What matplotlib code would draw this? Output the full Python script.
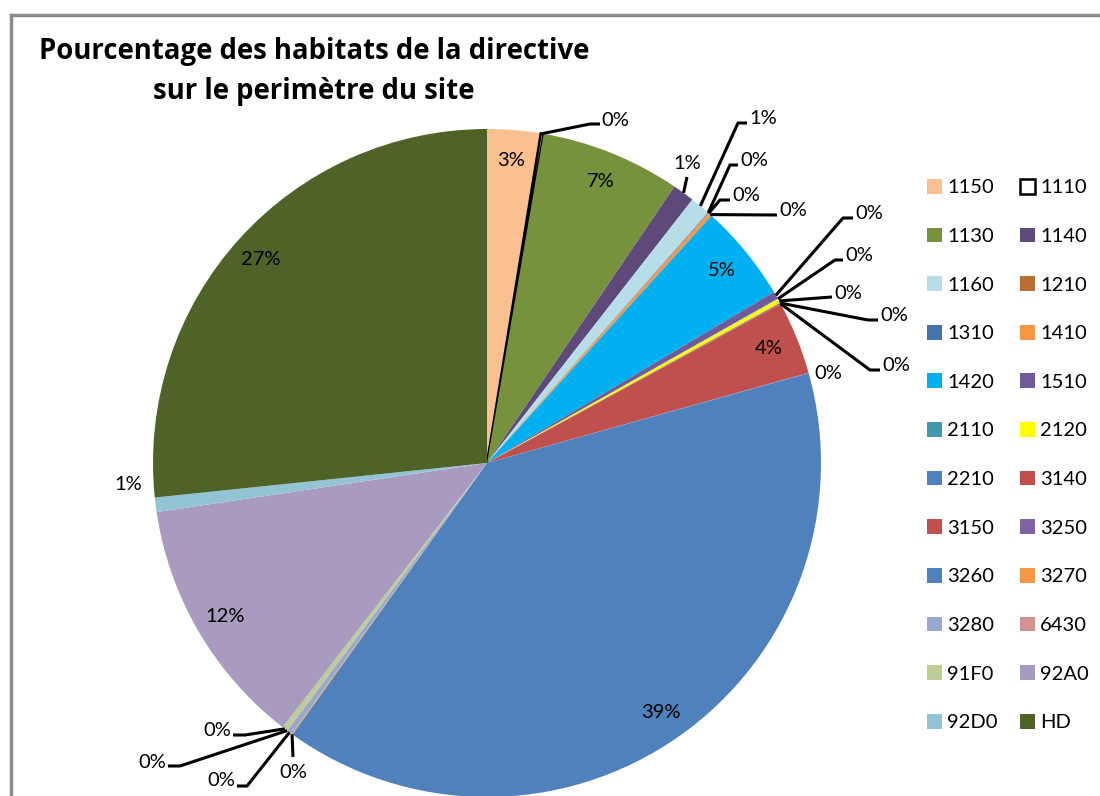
import matplotlib
matplotlib.use('Agg')
import numpy as np
import matplotlib.pyplot as plt
from matplotlib.lines import Line2D

plt.rcParams['font.family'] = ['Lato', 'DejaVu Sans']

# habitat codes, in the order of the pie (clockwise from 12 o'clock)
codes = ['1150', '1110', '1130', '1140', '1160', '1210', '1310', '1410',
         '1420', '1510', '2110', '2120', '2210', '3140', '3150', '3250',
         '3260', '3270', '3280', '6430', '91F0', '92A0', '92D0', 'HD']
# share of the site perimeter (%)
parts = [2.58, 0.14, 6.78, 1.06, 0.97, 0.03, 0.03, 0.17,
         4.72, 0.36, 0.03, 0.20, 0.03, 0.03, 3.55, 0.03,
         39.3, 0.05, 0.25, 0.03, 0.25, 12.2, 0.70, 26.7]
colors = ['#FAC090', '#FFFFFF', '#76923C', '#5F497A', '#B7DDE8', '#BB6E33',
          '#4674AA', '#F79646', '#00B0F0', '#72599A', '#4299AF', '#FFFF00',
          '#4F81BD', '#C0504D', '#C0504D', '#8064A2', '#4F81BD', '#F79646',
          '#95A9D1', '#D29290', '#BACF95', '#A99ABF', '#93C4D5', '#4F6228']

title1 = 'Pourcentage des habitats de la directive'
title2 = 'sur le perimètre du site'

W, H = 1100, 796
cx, cy, R = 487, 463, 334   # pie centre and radius in pixels


def P(px, py):
    return (px - cx) / R, (cy - py) / R


fig = plt.figure(figsize=(W / 100, H / 100), dpi=100)
ax = fig.add_axes([0, 0, 1, 1])
wedges, _ = ax.pie(parts, colors=colors, startangle=90, counterclock=False,
                   radius=1, wedgeprops=dict(linewidth=0))
wedges[1].set_edgecolor('black')
wedges[1].set_linewidth(1.8)
ax.set_xlim(-cx / R, (W - cx) / R)
ax.set_ylim(-(H - cy) / R, cy / R)
ax.set_aspect('auto')
ax.axis('off')

total = sum(parts)
fs = 14.5

# outside labels: text anchor (px), alignment, leader path after the rim point
outside = {
    '1110': ((601, 120), 'left', [(590, 124), (600, 124)]),
    '1140': ((687, 163), 'center', [(687, 177)]),
    '1160': ((749, 118), 'left', [(738, 123), (747, 123)]),
    '1210': ((740, 160), 'left', [(730, 165), (738, 165)]),
    '1310': ((732, 195), 'left', [(720, 200), (730, 200)]),
    '1410': ((779, 210), 'left', [(777, 215)]),
    '1510': ((855, 213), 'left', [(843, 218), (853, 218)]),
    '2110': ((845, 255), 'left', [(835, 260), (843, 260)]),
    '2120': ((834, 293), 'left', [(832, 297)]),
    '2210': ((880, 315), 'left', [(868, 320), (878, 320)]),
    '3140': ((882, 365), 'left', [(870, 370), (880, 370)]),
    '3250': ((814, 373), 'left', []),
    '3270': ((293, 773), 'center', [(293, 757)]),
    '3280': ((235, 781), 'right', [(247, 786), (237, 786)]),
    '6430': ((166, 762), 'right', [(180, 766), (168, 766)]),
    '91F0': ((231, 731), 'right', [(245, 735), (233, 735)]),
    '92D0': ((142, 484), 'right', []),
}

for w, code, v in zip(wedges, codes, parts):
    lab = '%d%%' % round(v / total * 100)
    mid = np.deg2rad((w.theta1 + w.theta2) / 2)
    if code in outside:
        (tx, ty), ha, path = outside[code]
        if path:
            xs = [np.cos(mid)] + [P(*p)[0] for p in path]
            ys = [np.sin(mid)] + [P(*p)[1] for p in path]
            ax.plot(xs, ys, color='black', lw=2.2, solid_capstyle='butt')
        ax.text(*P(tx, ty), lab, ha=ha, va='center', fontsize=fs)
    else:
        ax.text(0.91 * np.cos(mid), 0.91 * np.sin(mid), lab,
                ha='center', va='center', fontsize=fs)

# legend, filled row by row like the original
order = list(range(0, len(codes), 2)) + list(range(1, len(codes), 2))
ax.legend([wedges[i] for i in order], [codes[i] for i in order], ncol=2,
          loc='upper left', bbox_to_anchor=(927 / W, 1 - 179 / H),
          bbox_transform=fig.transFigure, frameon=False, fontsize=fs,
          handlelength=0.75, handleheight=0.75, handletextpad=0.25,
          columnspacing=1.1, labelspacing=1.55, borderpad=0, borderaxespad=0)

fig.text(314 / W, 1 - 52 / H, title1, ha='center', va='center',
         fontsize=19.8, fontweight='bold', family=['Open Sans', 'DejaVu Sans'])
fig.text(314 / W, 1 - 92 / H, title2, ha='center', va='center',
         fontsize=19.8, fontweight='bold', family=['Open Sans', 'DejaVu Sans'])

# chart area border (runs off the right and bottom edges)
fig.add_artist(Line2D([11 / W, 1], [1 - 15 / H, 1 - 15 / H], color='#8C8C8C',
                      lw=2.5, transform=fig.transFigure))
fig.add_artist(Line2D([11 / W, 11 / W], [0, 1 - 15 / H], color='#8C8C8C',
                      lw=2.5, transform=fig.transFigure))

fig.savefig('out.png', dpi=100)
